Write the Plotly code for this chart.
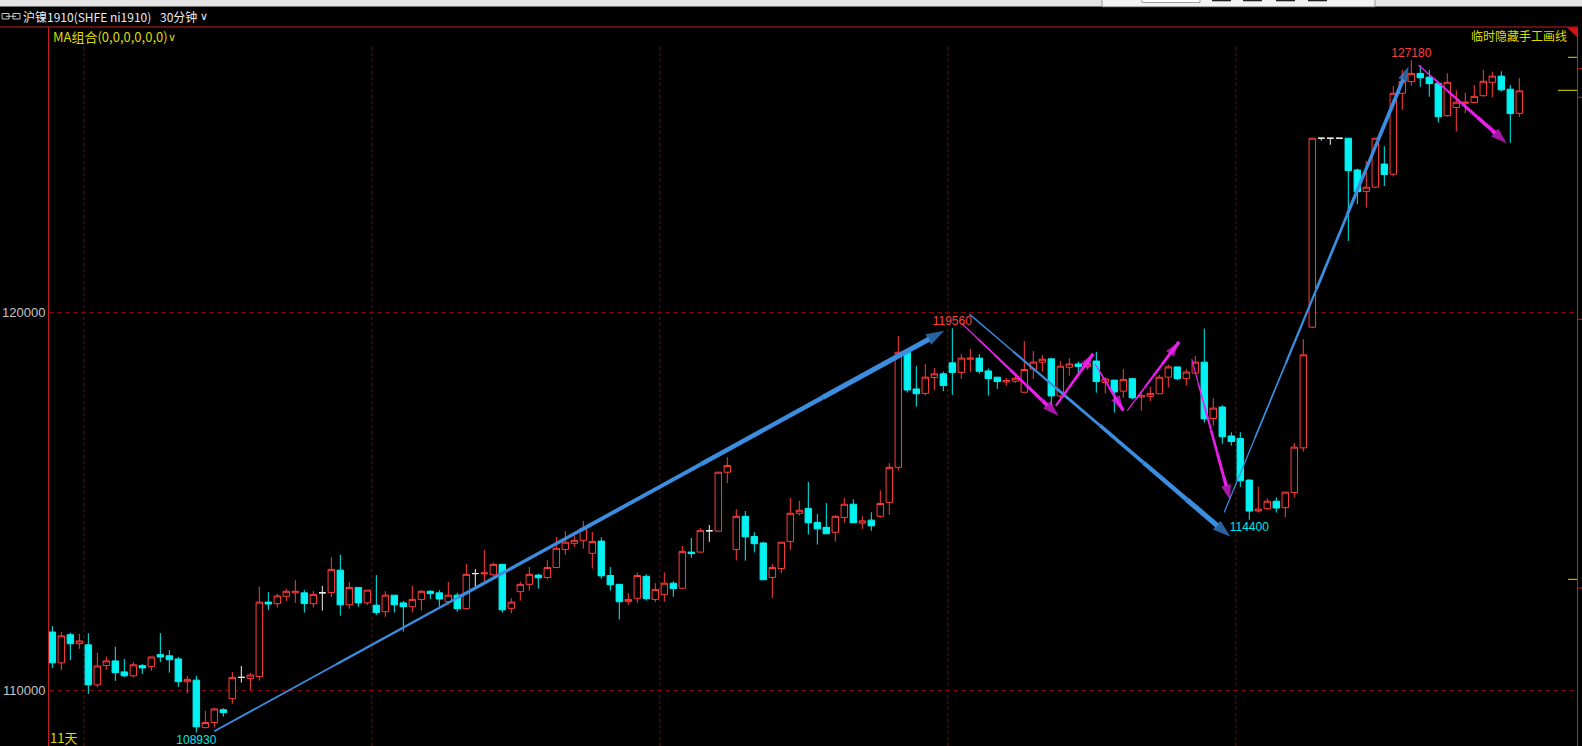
import math
import plotly.graph_objects as go

# ---------------- data (30-minute bars, 沪镍1910) ----------------
OPEN = [111480, 110690, 111410, 111180, 111150, 110130, 110620, 110740, 110460, 110360,
        110620, 110600, 110900, 110870, 110790, 110210, 110250, 109050, 109180, 109500,
        109780, 110320, 110290, 110340, 112250, 112210, 112400, 112490, 112490, 112210,
        112490, 112500, 113080, 112180, 112630, 112230, 112170, 112000, 112430, 112230,
        112130, 112320, 112530, 112490, 112260, 112430, 112080, 112990, 112980, 112960,
        113230, 112090, 112520, 112710, 112950, 112890, 113150, 113620, 113780, 113860,
        113520, 113840, 112940, 112710, 112260, 112350, 112920, 112320, 112450, 112740,
        112610, 113550, 113550, 114110, 114100, 115660, 113620, 114490, 113960, 113790,
        112890, 113120, 113830, 114570, 114700, 114330, 114200, 114070, 114460, 114810,
        114310, 114390, 114490, 114860, 115790, 118900, 117900, 117780, 118210, 118310,
        118610, 118350, 118710, 118740, 118390, 118220, 118090, 118110, 117810, 118440,
        118630, 118720, 117710, 118490, 118580, 118510, 118660, 118080, 118140, 117840,
        118180, 117680, 117700, 117770, 118220, 118500, 118180, 118330, 118630, 117100,
        117410, 116630, 116560, 115450, 114630, 114690, 114890, 114720, 115120, 116310,
        119590, 124910, 124910, 124910, 124910, 124000, 123390, 123510, 124170, 123880,
        126210, 126550, 126790, 126680, 126500, 125560, 125800, 125920, 125940, 126140,
        126530, 126710, 126330, 125630]
HIGH = [111630, 111480, 111460, 111430, 111450, 110950, 110850, 111100, 110790, 110710,
        110660, 110840, 111450, 111020, 110840, 110360, 110360, 109470, 109550, 109540,
        110460, 110610, 110430, 112650, 112510, 112460, 112590, 112820, 112560, 112540,
        112670, 113420, 113480, 112770, 112630, 112560, 112950, 112530, 112430, 112280,
        112670, 112560, 112560, 112560, 112770, 112490, 113240, 113110, 113610, 113280,
        113230, 112350, 112780, 113160, 112980, 113340, 113950, 114100, 114000, 114370,
        114080, 113940, 113160, 112710, 112480, 113020, 112970, 112740, 113020, 112790,
        113710, 113920, 114180, 114260, 115660, 116060, 114680, 114630, 114070, 113820,
        113240, 113810, 114980, 114900, 115400, 114550, 114840, 114520, 114970, 114940,
        114490, 114600, 115180, 115900, 119350, 118900, 118520, 118580, 118470, 118370,
        119560, 118850, 118990, 118850, 118460, 118220, 118200, 118270, 119210, 118930,
        118830, 118740, 118660, 118740, 118650, 118680, 118910, 118220, 118140, 118440,
        118200, 117830, 117960, 118280, 118560, 118500, 118440, 118800, 119550, 117650,
        117460, 116730, 116730, 115470, 115270, 114970, 114990, 115130, 116440, 119260,
        124910, 124910, 124910, 124910, 124910, 124040, 124260, 124910, 124680, 126420,
        126890, 127180, 127030, 126890, 126530, 126790, 126300, 126230, 126450, 126890,
        126840, 126850, 126450, 126650]
LOW = [110560, 110510, 110760, 111050, 109900, 110070, 110510, 110230, 110330, 110320,
       110410, 110490, 110710, 110440, 110080, 109910, 108930, 109050, 109060, 109330,
       109650, 110190, 110000, 110240, 112050, 112110, 112280, 112230, 111980, 112110,
       112030, 112380, 111900, 112080, 112130, 112170, 111920, 111870, 111980, 111490,
       111980, 112030, 112330, 112130, 112180, 112000, 112050, 112650, 112790, 112910,
       111980, 111960, 112290, 112550, 112600, 112840, 113130, 113480, 113690, 113640,
       113120, 112860, 112550, 111800, 112180, 112230, 112290, 112250, 112260, 112390,
       112610, 113400, 113550, 113820, 114100, 115370, 113330, 113330, 113540, 112830,
       112360, 113000, 113610, 114510, 114010, 113750, 114030, 113820, 114320, 114320,
       114160, 114110, 114460, 114530, 115700, 117800, 117420, 117720, 117870, 117840,
       117740, 118170, 118360, 118310, 117720, 117900, 117990, 118060, 117810, 118170,
       118370, 117450, 117650, 118260, 118330, 118420, 117800, 117780, 117260, 117660,
       117620, 117310, 117570, 117770, 117940, 118140, 117990, 118330, 116990, 116910,
       116420, 116370, 115270, 114400, 114590, 114660, 114590, 114460, 114990, 116210,
       119570, 124840, 124720, 124910, 121990, 123030, 122930, 123480, 123540, 123810,
       125730, 126430, 126400, 126110, 125360, 125530, 125100, 125630, 125940, 126110,
       126090, 126260, 124780, 125520]
CLOSE = [110690, 111380, 111180, 111250, 110130, 110610, 110740, 110440, 110360, 110640,
         110560, 110840, 110840, 110770, 110210, 110270, 109070, 109180, 109520, 109430,
         110320, 110320, 110380, 112250, 112200, 112410, 112530, 112530, 112210, 112450,
         112490, 113100, 112180, 112630, 112230, 112560, 111980, 112430, 112180, 112130,
         112320, 112530, 112470, 112330, 112430, 112080, 112970, 112990, 113010, 113230,
         112050, 112250, 112710, 112970, 112880, 113150, 113650, 113810, 113860, 114170,
         113830, 112930, 112700, 112260, 112320, 112940, 112340, 112580, 112740, 112600,
         113570, 113510, 114120, 114110, 115660, 115840, 114490, 113950, 113770, 112830,
         113150, 113810, 114570, 114650, 114320, 114160, 114030, 114490, 114810, 114320,
         114370, 114240, 114830, 115790, 118900, 117870, 117770, 118220, 118310, 117990,
         118350, 118740, 118740, 118380, 118180, 118100, 118130, 118190, 118430, 118630,
         118710, 117710, 118520, 118580, 118510, 118600, 118100, 118170, 117820, 118160,
         117660, 117720, 117780, 118220, 118500, 118180, 118360, 118630, 117090, 117380,
         116610, 116480, 115430, 114630, 114680, 114890, 114710, 115130, 116330, 118830,
         124910, 124910, 124910, 124910, 123980, 123380, 123510, 124910, 123870, 126210,
         126550, 126790, 126660, 126490, 125530, 126530, 125950, 125950, 126120, 126560,
         126710, 126310, 125620, 126280]
BARS = list(range(len(OPEN)))

SESSION_BREAKS = [3.5, 35.5, 67.5, 99.5, 131.5]   # dotted day separators
PRICE_TICKS = [110000, 120000]
PEAK_BARS = [100, 151]      # labelled highs
TROUGH_BARS = [16, 133]     # labelled lows
Y_BOTTOM, Y_TOP = 108590, 128152
X_LEFT, X_RIGHT = -0.37, 169.41

# hand-drawn arrows: (bar0, price0, bar1, price1, width0, width1, colour, head size)
BLUE = '#3b8de0'
MAGENTA = '#ee1fee'
ARROWS = [
    (18.0, 108960, 99.1, 119490, 1.5, 5.5, BLUE, 19),
    (101.9, 119950, 130.9, 113950, 1.0, 5.5, BLUE, 19),
    (130.2, 114590, 150.7, 127000, 1.0, 4.0, BLUE, 16),
    (101.05, 119695, 111.8, 117167, 1.0, 4.0, MAGENTA, 17),
    (111.5, 117440, 115.66, 118860, 2.0, 3.5, MAGENTA, 16),
    (115.86, 118580, 119.0, 117310, 1.0, 3.5, MAGENTA, 16),
    (119.44, 117310, 125.2, 119190, 1.0, 3.5, MAGENTA, 16),
    (126.6, 118710, 130.86, 114922, 1.0, 3.5, MAGENTA, 16),
    (151.8, 127035, 161.6, 124765, 1.0, 4.5, MAGENTA, 17),
]

# ---------------- style ----------------
UP_RED = '#ff3c3c'
DOWN_CYAN = '#00f2f2'
DOJI_WHITE = '#f0f0f0'
AXIS_RED = '#c81e1e'
GRID_RED = '#8c0000'
YELLOW = '#dcdc00'
CJK = 'Noto Sans CJK SC, DejaVu Sans'

W, H = 1582, 746
ML, MR, MT, MB = 49, 5, 27, 0
PW, PH = W - ML - MR, H - MT - MB


def px_x(px):
    return (px - ML) / PW


def px_y(py):
    return (H - MB - py) / PH


fig = go.Figure()


def candles(select, line_color, fill_color):
    idx = [i for i in BARS if select(OPEN[i], CLOSE[i])]
    style = dict(line=dict(color=line_color, width=1), fillcolor=fill_color)
    fig.add_trace(go.Candlestick(
        x=idx,
        open=[OPEN[i] for i in idx], high=[HIGH[i] for i in idx],
        low=[LOW[i] for i in idx], close=[CLOSE[i] for i in idx],
        increasing=style, decreasing=style, whiskerwidth=0,
        hoverinfo='skip', showlegend=False))


candles(lambda o, c: c > o, UP_RED, '#000000')
candles(lambda o, c: c < o, DOWN_CYAN, DOWN_CYAN)
candles(lambda o, c: c == o, DOJI_WHITE, DOJI_WHITE)

# tapered hand-drawn arrows
NSEG = 6
for (b0, p0, b1, p1, w0, w1, col, head) in ARROWS:
    l0, l1 = math.log(p0), math.log(p1)
    for k in range(NSEG):
        ta, tb = k / NSEG, (k + 1) / NSEG
        xs = [b0 + (b1 - b0) * ta, b0 + (b1 - b0) * tb]
        ys = [math.exp(l0 + (l1 - l0) * ta), math.exp(l0 + (l1 - l0) * tb)]
        w = w0 + (w1 - w0) * (k + 0.5) / NSEG
        last = k == NSEG - 1
        tr = dict(x=xs, y=ys, line=dict(color=col, width=w),
                  hoverinfo='skip', showlegend=False)
        if last:
            tr.update(mode='lines+markers',
                      marker=dict(symbol='arrow', size=[0, head], angleref='previous',
                                  color=col, line=dict(width=0)))
        else:
            tr.update(mode='lines')
        fig.add_trace(go.Scatter(**tr))

# extreme labels
fig.add_trace(go.Scatter(
    x=PEAK_BARS, y=[HIGH[i] for i in PEAK_BARS], mode='text',
    text=[str(HIGH[i]) for i in PEAK_BARS], textposition='top center',
    textfont=dict(color='#ff4040', size=12, family='Liberation Sans'),
    hoverinfo='skip', showlegend=False))
fig.add_trace(go.Scatter(
    x=TROUGH_BARS, y=[LOW[i] * 0.9994 for i in TROUGH_BARS], mode='text',
    text=[str(LOW[i]) for i in TROUGH_BARS], textposition='bottom center',
    textfont=dict(color='#00e6e6', size=12, family='Liberation Sans'),
    hoverinfo='skip', showlegend=False, cliponaxis=False))

shapes = []
# dotted session separators
for b in SESSION_BREAKS:
    shapes.append(dict(type='line', xref='x', yref='paper', x0=b, x1=b, y0=0, y1=px_y(44),
                       line=dict(color=GRID_RED, width=1, dash='3px,3px'), layer='below'))
# top frame line
shapes.append(dict(type='line', xref='paper', yref='paper', x0=px_x(0), x1=px_x(1578),
                   y0=px_y(27), y1=px_y(27), line=dict(color=AXIS_RED, width=1)))
# corner triangle
shapes.append(dict(type='path', xref='paper', yref='paper',
                   path=f'M{px_x(1567)},{px_y(27.5)} L{px_x(1577)},{px_y(27.5)} L{px_x(1577)},{px_y(37)} Z',
                   fillcolor='#d01414', line=dict(width=0)))
# right side markers
for (xa, yy) in [(1568, 57.3), (1558, 90.3), (1568, 579.3)]:
    shapes.append(dict(type='line', xref='paper', yref='paper', x0=px_x(xa), x1=px_x(1577),
                       y0=px_y(yy), y1=px_y(yy), line=dict(color=YELLOW, width=1)))
for yy in [68.7, 97.3, 319.3, 588]:
    shapes.append(dict(type='line', xref='paper', yref='paper', x0=px_x(1577), x1=px_x(1582),
                       y0=px_y(yy), y1=px_y(yy), line=dict(color=AXIS_RED, width=1)))
# window chrome at very top
shapes.append(dict(type='rect', xref='paper', yref='paper', x0=px_x(0), x1=px_x(1582),
                   y0=px_y(6.5), y1=px_y(0), fillcolor='#e4e4e4', line=dict(width=0)))
shapes.append(dict(type='rect', xref='paper', yref='paper', x0=px_x(1102), x1=px_x(1375),
                   y0=px_y(6.7), y1=px_y(-1), fillcolor='#f2f2f2', line=dict(color='#9a9a9a', width=1)))
shapes.append(dict(type='rect', xref='paper', yref='paper', x0=px_x(1142), x1=px_x(1200),
                   y0=px_y(2.5), y1=px_y(-1), fillcolor='#ffffff', line=dict(color='#a0a0a0', width=1)))
for xa in [1212, 1243, 1276, 1308]:
    shapes.append(dict(type='rect', xref='paper', yref='paper', x0=px_x(xa), x1=px_x(xa + 19),
                       y0=px_y(1.3), y1=px_y(-1), fillcolor='#222222', line=dict(width=0)))
# link icon
shapes.append(dict(type='rect', xref='paper', yref='paper', x0=px_x(2), x1=px_x(9),
                   y0=px_y(19), y1=px_y(13.5), line=dict(color='#c8c8c8', width=1)))
shapes.append(dict(type='rect', xref='paper', yref='paper', x0=px_x(13), x1=px_x(20),
                   y0=px_y(19), y1=px_y(13.5), line=dict(color='#c8c8c8', width=1)))
shapes.append(dict(type='line', xref='paper', yref='paper', x0=px_x(6), x1=px_x(16),
                   y0=px_y(16.3), y1=px_y(16.3), line=dict(color='#c8c8c8', width=1)))

annotations = [
    dict(text='沪镍1910(SHFE ni1910)', x=px_x(22), y=px_y(16), xanchor='left', yanchor='middle',
         font=dict(color='#ececec', size=12, family=CJK)),
    dict(text='30分钟', x=px_x(159), y=px_y(16), xanchor='left', yanchor='middle',
         font=dict(color='#ececec', size=12, family=CJK)),
    dict(text='∨', x=px_x(199), y=px_y(16), xanchor='left', yanchor='middle',
         font=dict(color='#ececec', size=11, family='DejaVu Sans')),
    dict(text='MA组合(0,0,0,0,0,0)', x=px_x(52), y=px_y(36), xanchor='left', yanchor='middle',
         font=dict(color=YELLOW, size=13, family=CJK)),
    dict(text='∨', x=px_x(167), y=px_y(37), xanchor='left', yanchor='middle',
         font=dict(color=YELLOW, size=11, family='DejaVu Sans')),
    dict(text='临时隐藏手工画线', x=px_x(1568), y=px_y(35), xanchor='right', yanchor='middle',
         font=dict(color=YELLOW, size=12, family=CJK)),
    dict(text='11天', x=px_x(49), y=px_y(737), xanchor='left', yanchor='middle',
         font=dict(color=YELLOW, size=13, family=CJK)),
]
for a in annotations:
    a.update(xref='paper', yref='paper', showarrow=False, borderpad=0)

fig.update_layout(
    width=W, height=H,
    margin=dict(l=ML, r=MR, t=MT, b=MB, autoexpand=False),
    paper_bgcolor='#000000', plot_bgcolor='#000000',
    showlegend=False, hovermode=False,
    boxgap=0.2, boxgroupgap=0.1,
    font=dict(family='Liberation Sans', color='#c0c0c0'),
    shapes=shapes, annotations=annotations,
    xaxis=dict(range=[X_LEFT, X_RIGHT], showgrid=False, zeroline=False, showline=False,
               showticklabels=False, ticks='', rangeslider=dict(visible=False), fixedrange=True),
    yaxis=dict(type='log', range=[math.log10(Y_BOTTOM), math.log10(Y_TOP)],
               tickvals=PRICE_TICKS, ticktext=[str(v) for v in PRICE_TICKS],
               tickfont=dict(color='#c4c4c4', size=13, family='Liberation Sans'),
               ticks='', showgrid=True, gridcolor=GRID_RED, gridwidth=1, griddash='5px,3px',
               showline=True, mirror=True, linecolor=AXIS_RED, linewidth=1,
               zeroline=False, fixedrange=True),
)

fig.write_html("out.html", config={'displayModeBar': False},
               post_script="document.body.style.margin='0';document.body.style.overflow='hidden';")
